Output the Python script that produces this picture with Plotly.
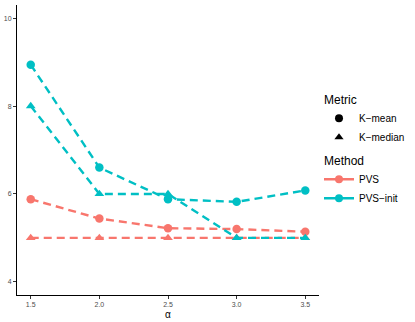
import plotly.graph_objects as go

alpha = [1.5, 2.0, 2.5, 3.0, 3.5]
pvs_kmean = [5.88, 5.44, 5.22, 5.20, 5.14]
pvs_kmedian = [5.0, 5.0, 5.0, 5.0, 5.0]
init_kmean = [8.94, 6.60, 5.88, 5.82, 6.08]
init_kmedian = [8.0, 6.0, 6.0, 5.0, 5.0]

COLORS = {"PVS": "#F8766D", "PVS-init": "#00BFC4"}
FONT = "Liberation Sans, Arial, sans-serif"

fig = go.Figure()

series = [
    ("PVS", "circle", pvs_kmean),
    ("PVS", "triangle-up", pvs_kmedian),
    ("PVS-init", "circle", init_kmean),
    ("PVS-init", "triangle-up", init_kmedian),
]
for method, sym, ys in series:
    fig.add_trace(go.Scatter(
        x=alpha, y=ys, mode="lines+markers", showlegend=False,
        line=dict(color=COLORS[method], width=2.4, dash="8px,5px"),
        marker=dict(color=COLORS[method], size=8.5, symbol=sym),
    ))

# legend-only entries
for name, sym in [("K\u2212mean", "circle"), ("K\u2212median", "triangle-up")]:
    fig.add_trace(go.Scatter(
        x=[None], y=[None], mode="markers", name=name,
        legendgroup="metric", legendgrouptitle=dict(text="Metric"),
        marker=dict(color="black", size=8, symbol=sym),
    ))
for name in ["PVS", "PVS\u2212init"]:
    key = name.replace("\u2212", "-")
    fig.add_trace(go.Scatter(
        x=[None], y=[None], mode="lines+markers", name=name,
        legendgroup="method", legendgrouptitle=dict(text="Method"),
        line=dict(color=COLORS[key], width=2.4),
        marker=dict(color=COLORS[key], size=8, symbol="circle"),
    ))

fig.update_layout(
    width=415, height=322,
    paper_bgcolor="white", plot_bgcolor="white",
    margin=dict(l=17, r=92, t=5, b=27),
    font=dict(family=FONT, size=10, color="black"),
    legend=dict(
        x=1.0, xanchor="left", y=0.725, yanchor="top",
        traceorder="grouped", tracegroupgap=4,
        font=dict(size=10, color="black"),
        grouptitlefont=dict(size=12, color="black"),
        itemwidth=30, bgcolor="rgba(0,0,0,0)",
    ),
    annotations=[dict(
        text="\u03b1", x=0.5, y=0, xref="paper", yref="paper",
        xanchor="center", yanchor="top", yshift=-12, showarrow=False,
        font=dict(size=10, color="black"),
    )],
)
fig.update_xaxes(
    range=[1.4, 3.6], tickvals=alpha, ticktext=["1.5", "2.0", "2.5", "3.0", "3.5"],
    showgrid=False, zeroline=False, showline=True, linecolor="black", linewidth=1,
    ticks="outside", ticklen=3, tickcolor="#333333", automargin=False,
    tickfont=dict(size=7, color="#4D4D4D"),
)
fig.update_yaxes(
    range=[3.7, 10.3], tickvals=[4, 6, 8, 10],
    showgrid=False, zeroline=False, showline=True, linecolor="black", linewidth=1,
    ticks="outside", ticklen=3, tickcolor="#333333", automargin=False,
    tickfont=dict(size=7, color="#4D4D4D"),
)

# the page body has a default 8px margin; drop it so the figure fills the window
fig.write_html("out.html", config={"displayModeBar": False},
               post_script="document.body.style.margin='0';")
